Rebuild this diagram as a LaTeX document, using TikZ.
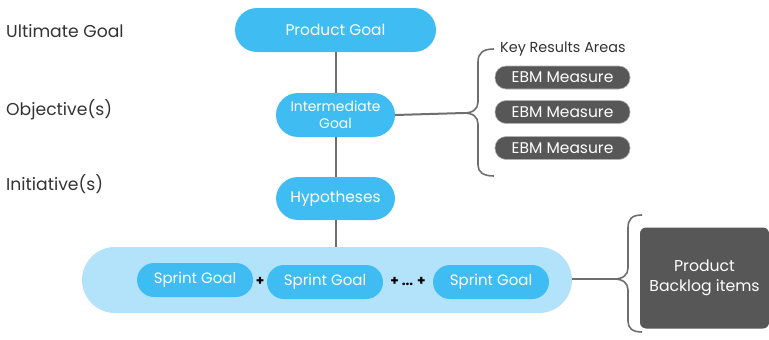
\documentclass[tikz,border=0pt]{standalone}
\usepackage{fontspec}
\setmainfont{Poppins}
\definecolor{pillblue}{HTML}{3FBCF2}
\definecolor{lightblue}{HTML}{B3E3FA}
\definecolor{darkgray}{HTML}{575757}
\definecolor{linegray}{HTML}{6E6E6E}
\definecolor{txt}{HTML}{333333}
\begin{document}
\begin{tikzpicture}[x=1pt,y=-1pt,
  pill/.style={fill=pillblue,text=white,rounded corners=#1,inner sep=0pt,align=center},
  pill/.default=17pt,
  ebm/.style={fill=darkgray,draw=gray!60,line width=0.6pt,text=white,rounded corners=11pt,minimum width=135pt,minimum height=23pt,inner sep=0pt,font=\fontsize{15.5}{17}\selectfont},
  lbl/.style={text=txt,anchor=west,inner sep=0pt,font=\fontsize{17.2}{20}\selectfont},
  conn/.style={draw=linegray,line width=2pt},
  brace/.style={draw=linegray,line width=1.6pt}]
\useasboundingbox (0,0) rectangle (769,340);
% left labels
\node[lbl] (ug) at (6,31) {Ultimate Goal};
\node[lbl] (ob) at (6,110) {Objective(s)};
\node[lbl] (in) at (6,184) {Initiative(s)};
% container
\node[fill=lightblue,rounded corners=33pt,minimum width=490pt,minimum height=66pt,inner sep=0pt] (cont) at (327,280) {};
% main pills
\node[pill=22pt,minimum width=201pt,minimum height=44pt,font=\fontsize{15.4}{18}\selectfont] (pg) at (335.5,30) {Product Goal};
\node[pill=22pt,minimum width=119pt,minimum height=44pt,font=\fontsize{13.9}{16.5}\selectfont] (ig) at (335.5,115) {Intermediate\\Goal};
\node[pill=22pt,minimum width=119pt,minimum height=43pt,font=\fontsize{15.4}{18}\selectfont] (hy) at (335.5,198.5) {Hypotheses};
\draw[conn] (pg.south) -- (ig.north);
\draw[conn] (ig.south) -- (hy.north);
\draw[conn] (hy.south) -- (hy.south |- cont.north);
% sprint goals
\node[pill,minimum width=116pt,minimum height=34pt,font=\fontsize{15}{17}\selectfont] (s1) at (195,280) {Sprint Goal};
\node[pill,minimum width=116pt,minimum height=34pt,font=\fontsize{15}{17}\selectfont] (s2) at (325,282) {Sprint Goal};
\node[pill,minimum width=116pt,minimum height=34pt,font=\fontsize{15}{17}\selectfont] (s3) at (491,282) {Sprint Goal};
\node[text=black,font=\bfseries\fontsize{13.5}{15}\selectfont,inner sep=0pt] (p1) at (260,281) {+};
\node[text=black,font=\bfseries\fontsize{13.5}{15}\selectfont,inner sep=0pt] (p2) at (408,281) {+ ... +};
% brace 1
\coordinate (t1) at (464,113);
\draw[conn] (ig.east) -- (t1);
\draw[brace] (494,49) .. controls (483,49) and (478,53) .. (478,62) -- (478,102)
  .. controls (478,109) and (473,113) .. (t1)
  .. controls (473,113) and (478,117) .. (478,124) -- (478,165)
  .. controls (478,172) and (483,176) .. (494,176);
\node[text=txt,anchor=west,inner sep=0pt,font=\fontsize{14.4}{16}\selectfont] (kra) at (500,49) {Key Results Areas};
\node[ebm] (e1) at (562.5,77.5) {EBM Measure};
\node[ebm] (e2) at (562.5,112) {EBM Measure};
\node[ebm] (e3) at (562.5,148) {EBM Measure};
% brace 2
\coordinate (t2) at (614,279);
\draw[conn] (cont.east |- t2) -- (t2);
\draw[brace] (642,215) .. controls (632,215) and (628,219) .. (628,228) -- (628,268)
  .. controls (628,275) and (623,279) .. (t2)
  .. controls (623,279) and (628,283) .. (628,290) -- (628,321)
  .. controls (628,328) and (632,332) .. (642,332);
\node[fill=darkgray,text=white,rounded corners=6pt,minimum width=129pt,minimum height=101pt,inner sep=0pt,align=center,font=\fontsize{15.7}{20}\selectfont] (pbi) at (704.5,278) {Product\\Backlog items};
\end{tikzpicture}
\end{document}
